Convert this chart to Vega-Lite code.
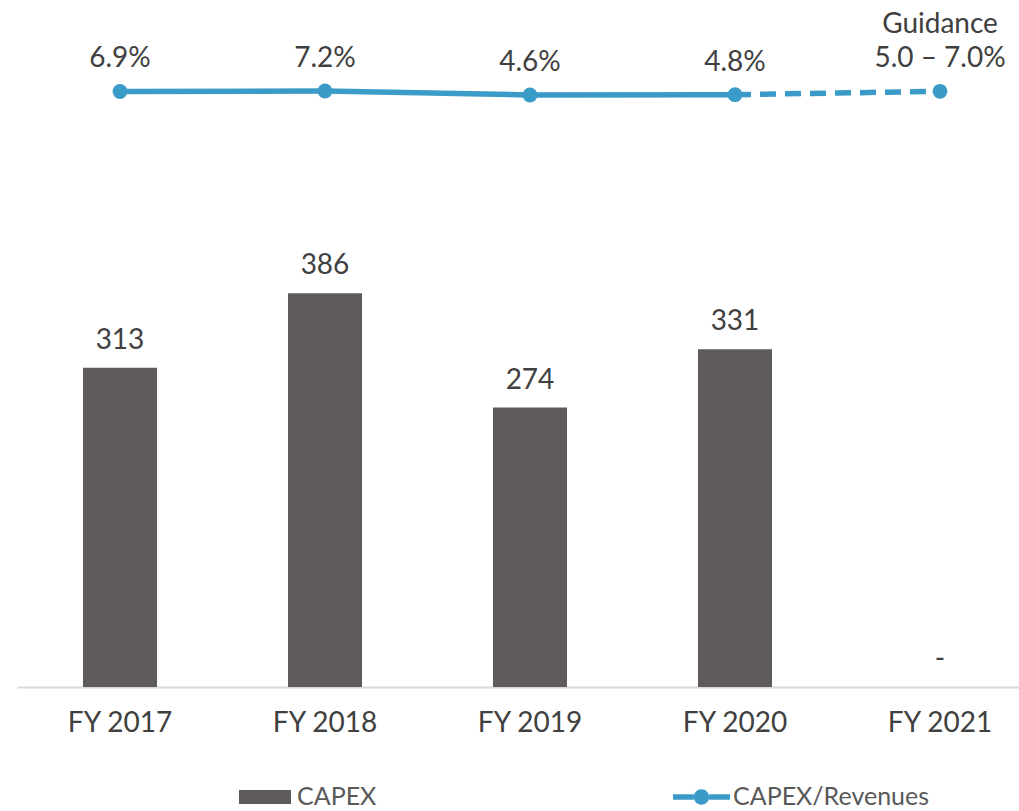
{
  "$schema": "https://vega.github.io/schema/vega-lite/v6.json",
  "width": 1002,
  "height": 687,
  "autosize": {"type": "none"},
  "padding": {"left": 17, "top": 0, "right": 0, "bottom": 124},
  "background": "white",
  "config": {
    "view": {"stroke": null},
    "font": "Lato",
    "text": {"font": "Lato"}
  },
  "data": {
    "values": [
      {"year": "FY 2017", "capex": 313, "capexLabel": "313", "ratio": 6.9, "ratioLabel": "6.9%", "note": ""},
      {"year": "FY 2018", "capex": 386, "capexLabel": "386", "ratio": 7.2, "ratioLabel": "7.2%", "note": ""},
      {"year": "FY 2019", "capex": 274, "capexLabel": "274", "ratio": 4.6, "ratioLabel": "4.6%", "note": ""},
      {"year": "FY 2020", "capex": 331, "capexLabel": "331", "ratio": 4.8, "ratioLabel": "4.8%", "note": ""},
      {"year": "FY 2021", "capex": 0, "capexLabel": "-", "ratio": 7.0, "ratioLabel": "5.0 – 7.0%", "note": "Guidance"}
    ]
  },
  "encoding": {
    "x": {
      "field": "year",
      "type": "nominal",
      "sort": null,
      "scale": {"paddingInner": 0.639, "paddingOuter": 0.2634, "align": 0.611},
      "axis": {
        "title": null,
        "labelAngle": 0,
        "labelFont": "Lato",
        "labelFontSize": 28,
        "labelColor": "#404040",
        "labelPadding": 22,
        "ticks": false,
        "domainColor": "#d9d9d9",
        "domainWidth": 2,
        "grid": false
      }
    }
  },
  "layer": [
    {
      "layer": [
        {
          "mark": {"type": "bar", "color": "#5f5b5a"},
          "encoding": {
            "y": {"field": "capex", "type": "quantitative", "scale": {"domain": [0, 673.5], "nice": false, "zero": true}, "axis": null},
            "fill": {
              "datum": "CAPEX",
              "type": "nominal",
              "scale": {"range": ["#5f5b5a"]},
              "legend": {
                "title": null,
                "orient": "none",
                "legendX": 222,
                "legendY": 771,
                "symbolType": "M-1,-0.27H1V0.27H-1Z",
                "symbolSize": 2704,
                "symbolStrokeWidth": 0,
                "labelFont": "Lato",
                "labelFontSize": 25,
                "labelColor": "#595959",
                "labelOffset": 6,
                "labelLimit": 300,
                "padding": 0
              }
            }
          }
        },
        {
          "mark": {"type": "text", "baseline": "alphabetic", "dy": -19, "fontSize": 28, "color": "#404040", "font": "Lato"},
          "encoding": {
            "y": {"field": "capex", "type": "quantitative"},
            "text": {"field": "capexLabel"}
          }
        }
      ]
    },
    {
      "layer": [
        {
          "transform": [{"filter": "datum.year !== 'FY 2021'"}],
          "mark": {"type": "line", "strokeWidth": 5.5},
          "encoding": {
            "y": {"field": "ratio", "type": "quantitative", "scale": {"domain": [-380.3, 66.37], "nice": false, "zero": false}, "axis": null},
            "stroke": {
              "datum": "CAPEX/Revenues",
              "type": "nominal",
              "scale": {"range": ["#3a9bc8"]},
              "legend": {
                "title": null,
                "orient": "none",
                "legendX": 656,
                "legendY": 768.5,
                "symbolType": "M-1,-0.1H-0.27V0.1H-1Z M0.27,-0.1H1V0.1H0.27Z M0.27,0A0.27,0.27 0 1,1 -0.27,0A0.27,0.27 0 1,1 0.27,0Z",
                "symbolSize": 3249,
                "symbolStrokeWidth": 0,
                "symbolFillColor": "#3a9bc8",
                "labelFont": "Lato",
                "labelFontSize": 25,
                "labelColor": "#595959",
                "labelOffset": 3,
                "labelLimit": 300,
                "padding": 0,
                "encode": {"symbols": {"update": {"fill": {"value": "#3a9bc8"}, "strokeWidth": {"value": 0}, "strokeDash": {"value": []}}}}
              }
            }
          }
        },
        {
          "transform": [{"filter": "datum.year === 'FY 2020' || datum.year === 'FY 2021'"}],
          "mark": {"type": "line", "strokeWidth": 5.5, "color": "#3a9bc8", "strokeDash": [16, 9]},
          "encoding": {
            "y": {"field": "ratio", "type": "quantitative"}
          }
        },
        {
          "mark": {"type": "circle", "size": 220, "color": "#3a9bc8", "opacity": 1},
          "encoding": {
            "y": {"field": "ratio", "type": "quantitative"}
          }
        },
        {
          "mark": {"type": "text", "baseline": "alphabetic", "dy": -24, "fontSize": 28, "color": "#404040", "font": "Lato"},
          "encoding": {
            "y": {"field": "ratio", "type": "quantitative"},
            "text": {"field": "ratioLabel"}
          }
        },
        {
          "mark": {"type": "text", "baseline": "alphabetic", "dy": -58, "fontSize": 28, "color": "#404040", "font": "Lato"},
          "encoding": {
            "y": {"field": "ratio", "type": "quantitative"},
            "text": {"field": "note"}
          }
        }
      ],
      "resolve": {"scale": {"y": "shared"}}
    }
  ],
  "resolve": {"scale": {"y": "independent"}}
}
